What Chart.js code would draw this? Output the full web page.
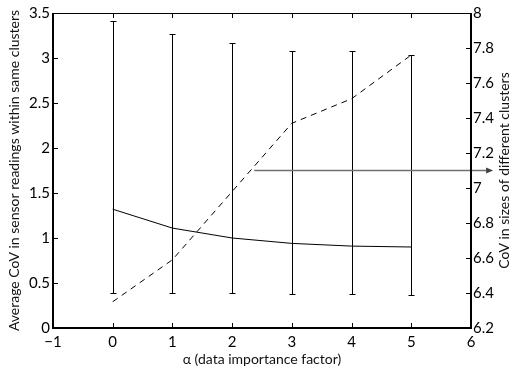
<!DOCTYPE html>
<html><head><meta charset="utf-8">
<script src="https://cdn.jsdelivr.net/npm/chart.js@4"></script>
<style>html,body{margin:0;padding:0;background:#fff}#wrap{width:512px;height:369px}</style>
</head><body><div id="wrap"><canvas id="c" width="512" height="369"></canvas></div>
<script>
const alphaValues=[0,1,2,3,4,5];
const avgCoV=[1.32,1.11,1.00,0.94,0.91,0.90];
const avgCoVUpper=[3.41,3.27,3.17,3.08,3.08,3.03];
const avgCoVLower=[0.385,0.385,0.385,0.38,0.38,0.37];
const sizeCoV=[6.35,6.59,6.98,7.37,7.51,7.76];
const arrowFrom=[2.37,7.1];
const arrowTo=[6.37,7.1];
const xTicks=[-1,0,1,2,3,4,5,6];
const leftTicks=[0,0.5,1,1.5,2,2.5,3,3.5];
const rightTicks=[6.2,6.4,6.6,6.8,7,7.2,7.4,7.6,7.8,8];
const xTitle='α (data importance factor)';
const leftTitle='Average CoV in sensor readings within same clusters';
const rightTitle='CoV in sizes of different clusters';

const FONT='Lato';
const TICK=15, TITLE=14;
const fmt=v=>String(Number(v.toFixed(2))).replace('-','\u2212');

const decor={id:'decor',afterDatasetsDraw(chart){
  const {ctx,chartArea:a,scales:{x,y,y1}}=chart;
  ctx.save();
  ctx.strokeStyle='#000';ctx.lineWidth=1;
  alphaValues.forEach((v,i)=>{
    const px=Math.round(x.getPixelForValue(v))+0.5;
    const t=Math.round(y.getPixelForValue(avgCoVUpper[i]))+0.5;
    const b=Math.round(y.getPixelForValue(avgCoVLower[i]))+0.5;
    ctx.beginPath();
    ctx.moveTo(px,t);ctx.lineTo(px,b);
    ctx.moveTo(px-3,t);ctx.lineTo(px+3,t);
    ctx.moveTo(px-3,b);ctx.lineTo(px+3,b);
    ctx.stroke();
  });
  // arrow
  const ax0=x.getPixelForValue(arrowFrom[0]), ay=y1.getPixelForValue(arrowFrom[1]);
  const ax1=x.getPixelForValue(arrowTo[0]);
  ctx.strokeStyle='#707070';ctx.fillStyle='#404040';ctx.lineWidth=1.5;
  ctx.beginPath();ctx.moveTo(ax0,ay);ctx.lineTo(ax1-5,ay);ctx.stroke();
  ctx.beginPath();ctx.moveTo(ax1,ay);ctx.lineTo(ax1-7,ay-3);ctx.lineTo(ax1-7,ay+3);ctx.closePath();ctx.fill();
  // frame
  ctx.strokeStyle='#000';
  ctx.lineWidth=1;
  ctx.beginPath();ctx.moveTo(a.left,a.top+0.5);ctx.lineTo(a.right,a.top+0.5);ctx.stroke();
  ctx.lineWidth=2;
  ctx.beginPath();
  ctx.moveTo(a.left,a.top);ctx.lineTo(a.left,a.bottom);ctx.lineTo(a.right,a.bottom);ctx.lineTo(a.right,a.top);
  ctx.stroke();
  // inward ticks
  ctx.lineWidth=1;
  ctx.beginPath();
  xTicks.forEach(v=>{const px=Math.round(x.getPixelForValue(v))+0.5;
    ctx.moveTo(px,a.bottom);ctx.lineTo(px,a.bottom-5);
    ctx.moveTo(px,a.top);ctx.lineTo(px,a.top+5);});
  leftTicks.forEach(v=>{const py=Math.round(y.getPixelForValue(v))+0.5;
    ctx.moveTo(a.left,py);ctx.lineTo(a.left+5,py);});
  rightTicks.forEach(v=>{const py=Math.round(y1.getPixelForValue(v))+0.5;
    ctx.moveTo(a.right,py);ctx.lineTo(a.right-5,py);});
  ctx.stroke();
  // right title (reads bottom to top)
  ctx.fillStyle='#111';
  ctx.font=TITLE+'px '+FONT;
  ctx.textAlign='center';ctx.textBaseline='middle';
  ctx.translate(504,(a.top+a.bottom)/2);
  ctx.rotate(-Math.PI/2);
  ctx.fillText(rightTitle,0,0);
  ctx.restore();
}};

new Chart(document.getElementById('c'),{
  type:'line',
  data:{datasets:[
    {data:alphaValues.map((v,i)=>({x:v,y:avgCoV[i]})),yAxisID:'y',borderColor:'#000',borderWidth:1,pointRadius:0,fill:false,tension:0},
    {data:alphaValues.map((v,i)=>({x:v,y:sizeCoV[i]})),yAxisID:'y1',borderColor:'#000',borderWidth:1,borderDash:[6,5],pointRadius:0,fill:false,tension:0}
  ]},
  options:{
    responsive:false,animation:false,devicePixelRatio:1,
    layout:{padding:{top:13,left:0,right:0,bottom:0}},
    plugins:{legend:{display:false},tooltip:{enabled:false}},
    scales:{
      x:{type:'linear',min:-1,max:6,
        afterBuildTicks:s=>{s.ticks=xTicks.map(v=>({value:v}));},
        afterFit:s=>{s.height=41;},
        grid:{display:false,drawTicks:false},border:{display:false},
        ticks:{color:'#000',font:{family:FONT,size:TICK},padding:5,callback:v=>fmt(v),maxRotation:0},
        title:{display:true,text:xTitle,color:'#111',font:{family:FONT,size:TITLE},padding:{top:0,bottom:1}}},
      y:{type:'linear',position:'left',min:0,max:3.5,
        afterBuildTicks:s=>{s.ticks=leftTicks.map(v=>({value:v}));},
        afterFit:s=>{s.width=53;},
        grid:{display:false,drawTicks:false},border:{display:false},
        ticks:{color:'#000',font:{family:FONT,size:TICK},padding:3,callback:v=>fmt(v)},
        title:{display:true,text:leftTitle,color:'#111',font:{family:FONT,size:TITLE},padding:{top:6,bottom:0}}},
      y1:{type:'linear',position:'right',min:6.2,max:8,
        afterBuildTicks:s=>{s.ticks=rightTicks.map(v=>({value:v}));},
        afterFit:s=>{s.width=41;},
        grid:{display:false,drawTicks:false},border:{display:false},
        ticks:{color:'#000',font:{family:FONT,size:TICK},padding:2,callback:v=>fmt(v)}}
    }
  },
  plugins:[decor]
});
</script></body></html>
